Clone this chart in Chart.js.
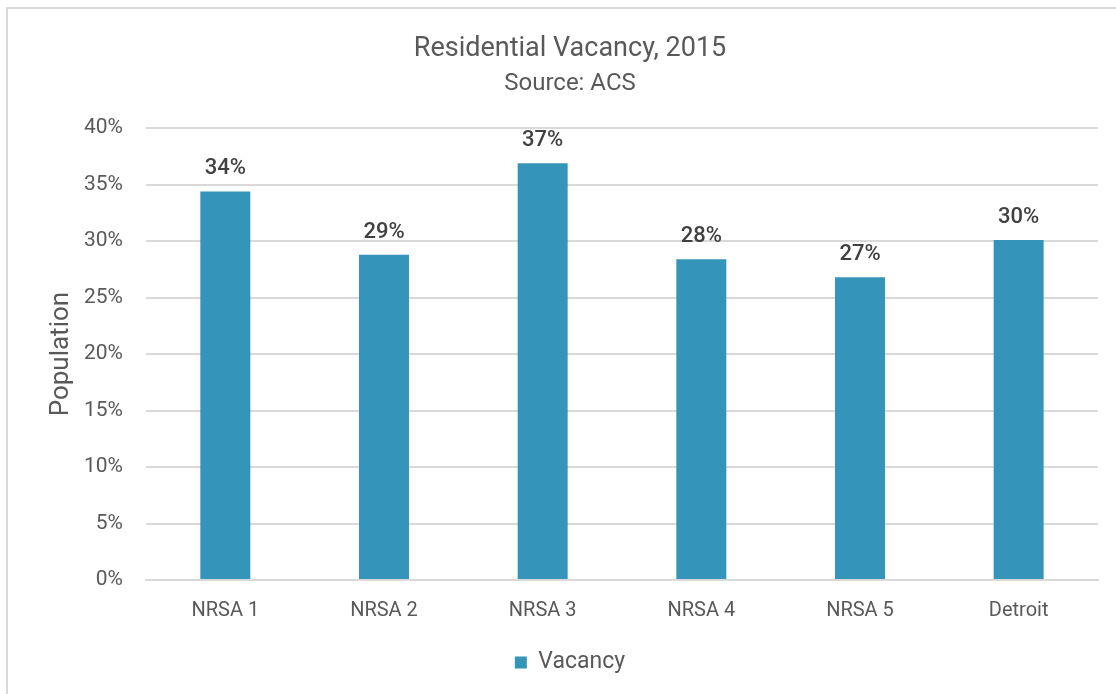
<!DOCTYPE html>
<html>
<head>
<meta charset="utf-8">
<script src="https://cdn.jsdelivr.net/npm/chart.js@4"></script>
<style>
  body { margin: 0; background: #fff; }
  #wrap { position: relative; width: 1116px; height: 694px; overflow: hidden; }
  #frame { position: absolute; left: 6px; top: 7px; width: 1200px; height: 800px; border: 2px solid #d9d9d9; }
  #vacChart { position: absolute; left: 0; top: 0; }
</style>
</head>
<body>
<div id="wrap">
  <div id="frame"></div>
  <canvas id="vacChart" width="1116" height="694"></canvas>
</div>
<script>
const categories = ['NRSA 1', 'NRSA 2', 'NRSA 3', 'NRSA 4', 'NRSA 5', 'Detroit'];
const vacancy = [34.4, 28.8, 36.9, 28.4, 26.8, 30.1];
const tickStep = 5;
const axisMax = 40;

const fontFam = 'Roboto, "Noto Sans", sans-serif';

// rounded % above each bar
const barLabels = {
  id: 'barLabels',
  afterDatasetsDraw(chart) {
    const ctx = chart.ctx;
    const meta = chart.getDatasetMeta(0);
    ctx.save();
    ctx.fillStyle = '#404040';
    ctx.font = '500 22px ' + fontFam;
    ctx.textAlign = 'center';
    ctx.textBaseline = 'alphabetic';
    meta.data.forEach(function(bar, i) {
      ctx.fillText(Math.round(vacancy[i]) + '%', bar.x, bar.y - 17);
    });
    ctx.restore();
  }
};

var chart = document.getElementById('vacChart');
var vacChart = new Chart(chart, {
  type: 'bar',
  data: {
    labels: categories,
    datasets: [{
      label: 'Vacancy',
      data: vacancy,
      backgroundColor: '#3494ba',
      borderWidth: 0,
      categoryPercentage: 0.63,
      barPercentage: 0.5
    }]
  },
  options: {
    responsive: false,
    animation: false,
    layout: { padding: { left: 42, right: 18, top: 14, bottom: 10 } },
    plugins: {
      title: {
        display: true,
        text: 'Residential Vacancy, 2015',
        color: '#595959',
        font: { family: fontFam, size: 27, weight: 'normal' },
        padding: { top: 19, bottom: 4 }
      },
      subtitle: {
        display: true,
        text: 'Source: ACS',
        color: '#595959',
        font: { family: fontFam, size: 24 },
        padding: { bottom: 30 }
      },
      legend: {
        position: 'bottom',
        labels: {
          color: '#595959',
          font: { family: fontFam, size: 23 },
          boxWidth: 12,
          boxHeight: 12,
          padding: 17
        }
      },
      tooltip: { enabled: false }
    },
    scales: {
      x: {
        grid: { display: false },
        border: { color: '#d9d9d9', width: 2 },
        ticks: { color: '#595959', font: { family: fontFam, size: 20 }, padding: 11 }
      },
      y: {
        min: 0,
        max: axisMax,
        border: { display: false },
        grid: { color: '#d9d9d9', lineWidth: 2, drawTicks: false },
        afterFit: function(scale) { scale.width = 104; },
        ticks: {
          stepSize: tickStep,
          color: '#595959',
          padding: 23,
          font: { family: fontFam, size: 21 },
          callback: function(v) { return v + '%'; }
        },
        title: {
          display: true,
          text: 'Population',
          color: '#595959',
          font: { family: fontFam, size: 26 },
          padding: { top: 4, bottom: 0 }
        }
      }
    }
  },
  plugins: [barLabels]
});
</script>
</body>
</html>
